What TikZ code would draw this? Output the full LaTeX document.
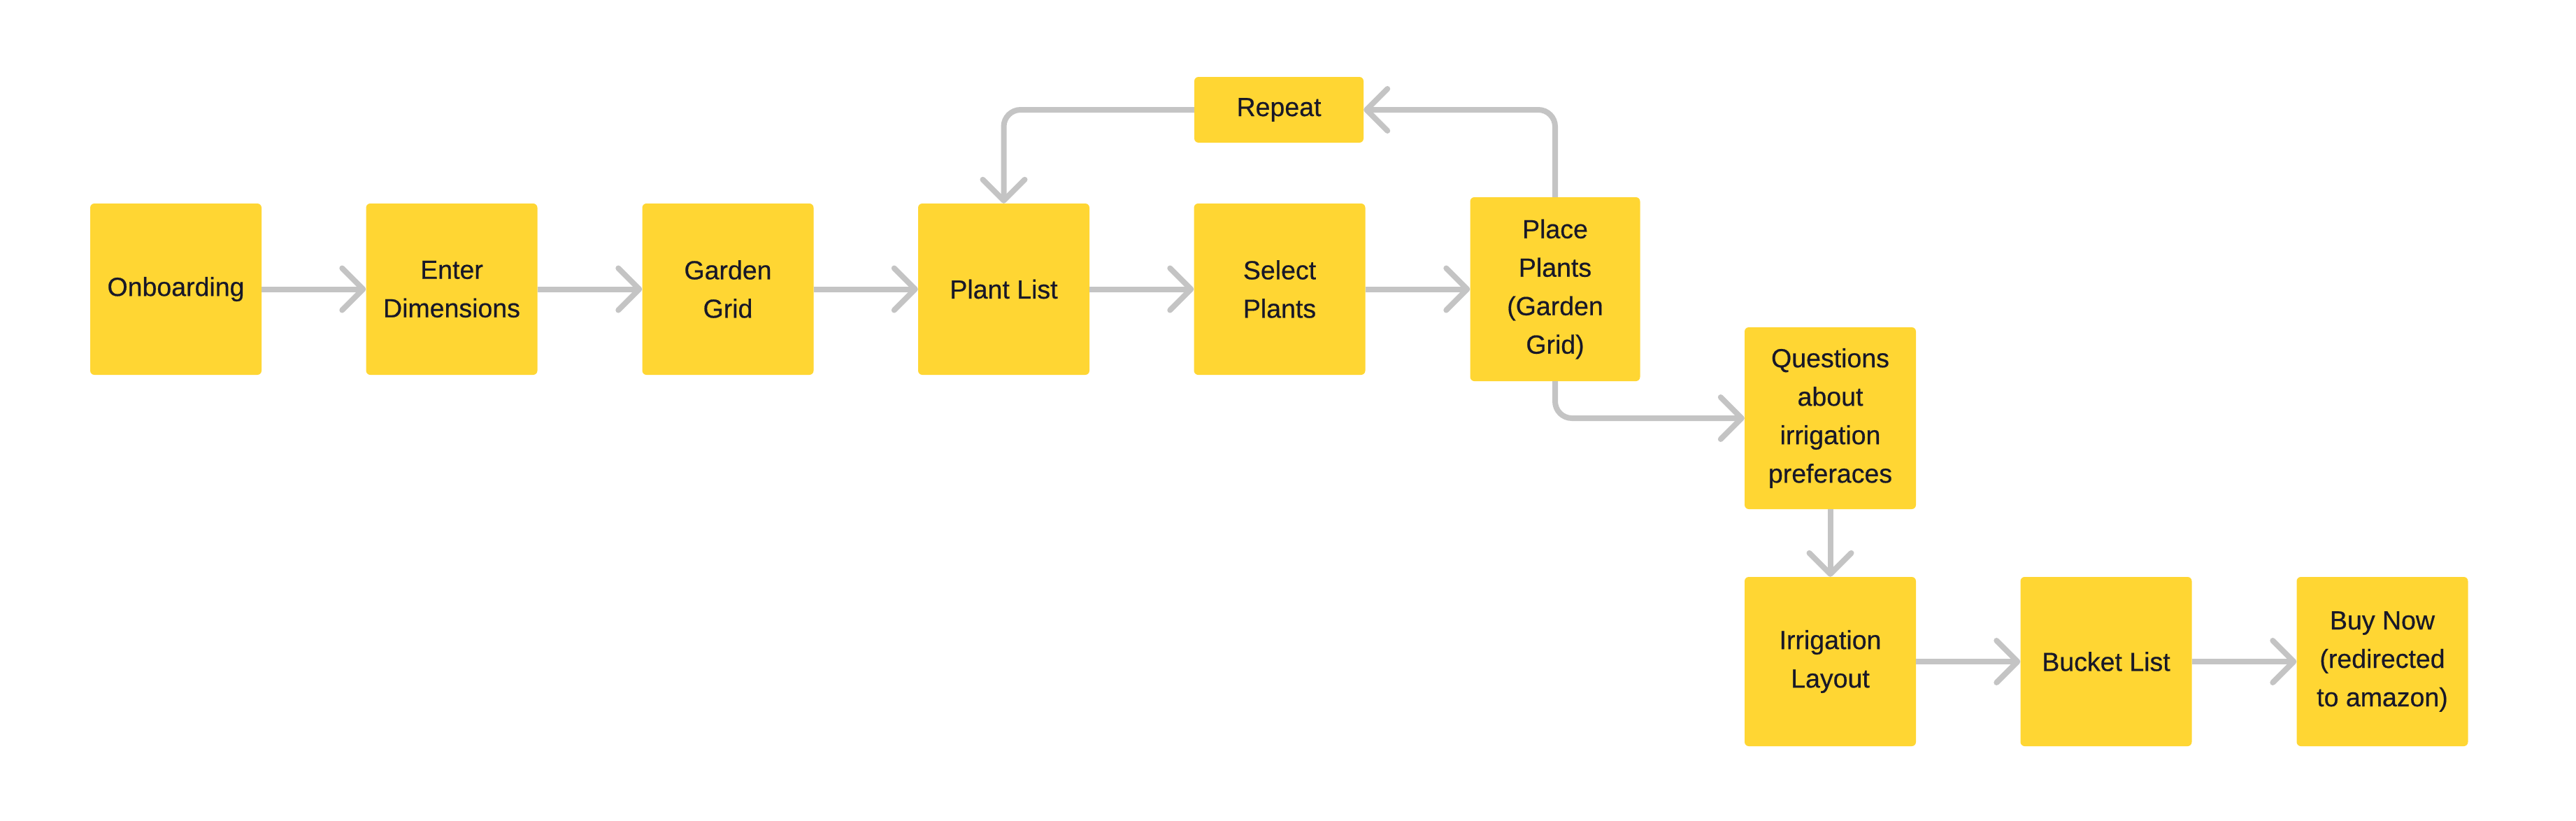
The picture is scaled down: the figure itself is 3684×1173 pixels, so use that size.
\documentclass[tikz,border=0pt]{standalone}
\usepackage{fontspec}
\setmainfont[FakeBold=0.5]{Liberation Sans}
\usetikzlibrary{arrows.meta}
\definecolor{boxyellow}{RGB}{255,214,51}
\definecolor{linegray}{RGB}{196,196,196}
\definecolor{textdark}{RGB}{24,24,40}
\begin{document}
\begin{tikzpicture}[x=1pt,y=-1pt,
  card/.style={rectangle, rounded corners=6pt, fill=boxyellow, draw=none,
    minimum width=245pt, minimum height=245pt, inner sep=0pt, align=center,
    text=textdark, font=\fontsize{37.5}{55}\selectfont},
  link/.style={draw=linegray, line width=8pt, rounded corners=24pt,
    -{Straight Barb[length=30pt,width=60pt,line cap=round,line join=round]}}
]
\useasboundingbox (0,0) rectangle (3684,1173);
\node[card] (onb) at (251.5,413.5) {Onboarding};
\node[card] (dim) at (646,413.5) {Enter\\Dimensions};
\node[card] (grid) at (1041,413.5) {Garden\\Grid};
\node[card] (plist) at (1435.5,413.5) {Plant List};
\node[card] (sel) at (1830,413.5) {Select\\Plants};
\node[card, minimum width=243pt, minimum height=263pt] (place) at (2224,413.5) {Place\\Plants\\(Garden\\Grid)};
\node[card, minimum width=242pt, minimum height=94pt] (rep) at (1829,157) {Repeat};
\node[card, minimum height=260pt] (quest) at (2617.5,598) {Questions\\about\\irrigation\\preferaces};
\node[card, minimum height=242pt] (irr) at (2617.5,946) {Irrigation\\Layout};
\node[card, minimum height=242pt] (bucket) at (3012,946) {Bucket List};
\node[card, minimum height=242pt] (buy) at (3407,946) {Buy Now\\(redirected\\to amazon)};

\draw[link] (onb) -- (dim);
\draw[link] (dim) -- (grid);
\draw[link] (grid) -- (plist);
\draw[link] (plist) -- (sel);
\draw[link] (sel) -- (place);
\draw[link] (place.north) |- (rep.east);
\draw[link] (rep.west) -| (plist.north);
\draw[link] (place.south) |- (quest.west);
\draw[link] (quest) -- (irr);
\draw[link] (irr) -- (bucket);
\draw[link] (bucket) -- (buy);
\end{tikzpicture}
\end{document}
